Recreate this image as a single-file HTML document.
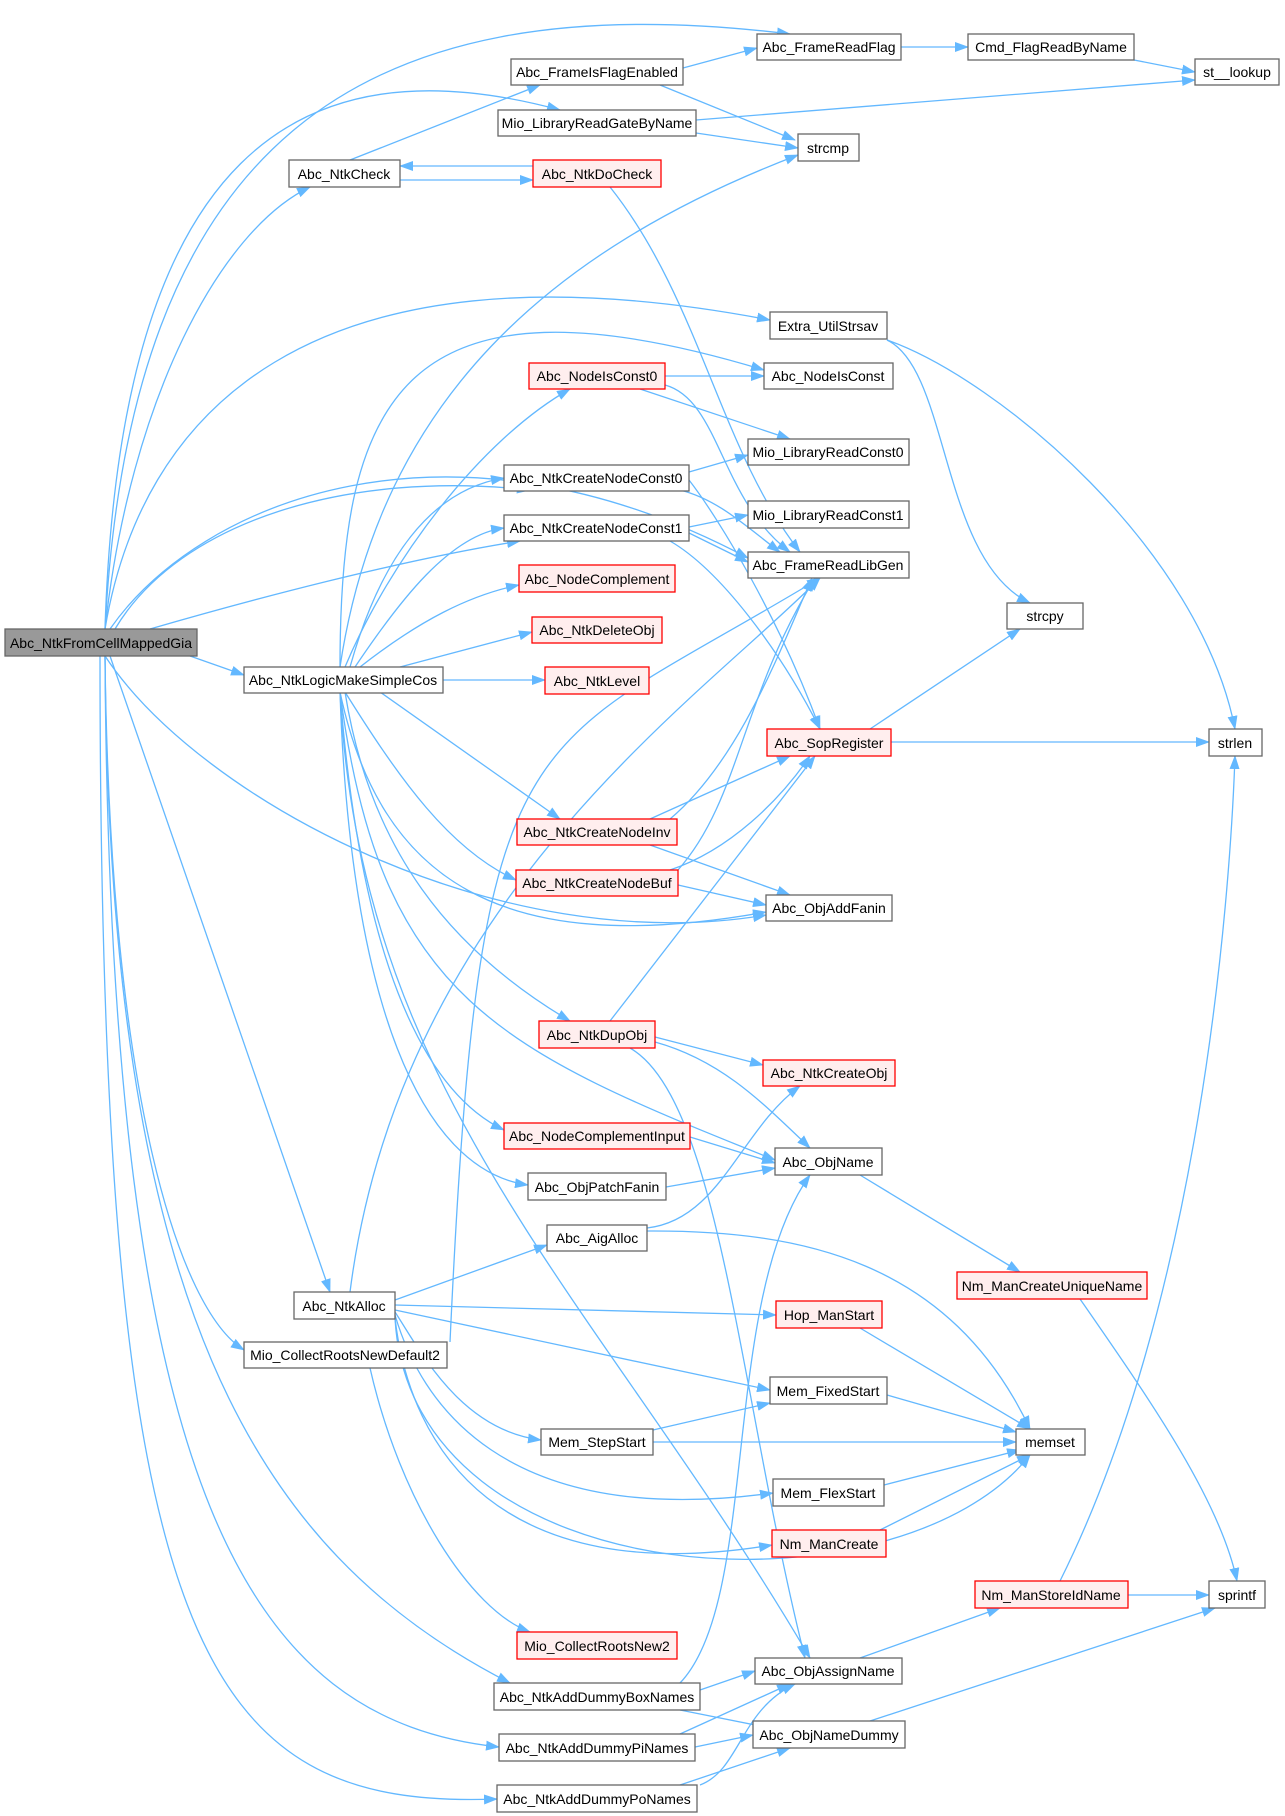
<!DOCTYPE html>
<html><head><meta charset="utf-8"><style>
html,body{margin:0;padding:0;background:#fff;}
svg{display:block;}
text{font-family:"Liberation Sans",Arial,sans-serif;font-size:14px;fill:#000;text-anchor:middle;dominant-baseline:central;}
.e{fill:none;stroke:#63b8ff;stroke-width:1.3;marker-end:url(#a);}
.n{fill:#fff;stroke:#666;stroke-width:1.3;}
.r{fill:#ffeeee;stroke:#ff0000;stroke-width:1.3;}
.m{fill:#999;stroke:#666;stroke-width:1.3;}
</style></head><body>
<svg width="1285" height="1816" viewBox="0 0 1285 1816" xmlns="http://www.w3.org/2000/svg">
<defs><marker id="a" markerWidth="14" markerHeight="10" refX="13" refY="5" orient="auto" markerUnits="userSpaceOnUse"><path d="M0,0 L14,5 L0,10 z" fill="#63b8ff"/></marker></defs>
<g>
<path class="e" d="M105 629 C 130 150, 350 -20, 790 34"/>
<path class="e" d="M105 629 C 120 150, 300 40, 560 110"/>
<path class="e" d="M105 629 C 130 400, 220 230, 310 187"/>
<path class="e" d="M105 629 C 140 420, 300 230, 770 320"/>
<path class="e" d="M110 629 C 200 500, 450 400, 748 558"/>
<path class="e" d="M115 629 C 180 520, 350 470, 530 490"/>
<path class="e" d="M150 629 C 250 600, 400 560, 520 541"/>
<path class="e" d="M190 656 L 244 675"/>
<path class="e" d="M105 656 C 200 800, 500 960, 766 915"/>
<path class="e" d="M110 656 L 330 1292"/>
<path class="e" d="M105 656 C 110 1100, 180 1310, 244 1350"/>
<path class="e" d="M105 656 C 110 1300, 250 1550, 510 1683"/>
<path class="e" d="M105 656 C 110 1500, 250 1720, 499 1747"/>
<path class="e" d="M100 656 C 100 1650, 200 1810, 497 1799"/>
<path class="e" d="M340 667 C 380 400, 550 250, 798 155"/>
<path class="e" d="M340 667 C 340 400, 400 260, 764 370"/>
<path class="e" d="M345 667 C 390 560, 480 440, 570 389"/>
<path class="e" d="M350 667 C 380 560, 430 490, 504 478"/>
<path class="e" d="M355 667 C 400 600, 450 535, 504 528"/>
<path class="e" d="M360 667 C 420 620, 470 595, 519 585"/>
<path class="e" d="M400 667 L 532 632"/>
<path class="e" d="M443 680 L 545 680"/>
<path class="e" d="M380 692 L 560 819"/>
<path class="e" d="M345 692 C 400 780, 450 850, 516 880"/>
<path class="e" d="M340 692 C 380 880, 500 960, 766 912"/>
<path class="e" d="M345 692 C 370 850, 450 950, 570 1021"/>
<path class="e" d="M340 692 C 380 1000, 500 1050, 775 1160"/>
<path class="e" d="M340 692 C 360 950, 420 1090, 504 1130"/>
<path class="e" d="M340 692 C 350 1000, 420 1170, 528 1185"/>
<path class="e" d="M340 692 C 360 1100, 600 1300, 810 1658"/>
<path class="e" d="M350 160 L 540 85"/>
<path class="e" d="M400 180 L 533 180"/>
<path class="e" d="M533 166 L 400 166"/>
<path class="e" d="M610 187 C 700 300, 720 450, 800 552"/>
<path class="e" d="M683 68 L 757 48"/>
<path class="e" d="M660 85 L 795 140"/>
<path class="e" d="M696 120 L 1195 80"/>
<path class="e" d="M696 133 L 798 148"/>
<path class="e" d="M901 47 L 968 47"/>
<path class="e" d="M1134 60 L 1195 72"/>
<path class="e" d="M887 340 C 950 370, 940 560, 1030 603"/>
<path class="e" d="M887 340 C 1000 380, 1200 550, 1235 729"/>
<path class="e" d="M665 376 L 764 376"/>
<path class="e" d="M640 389 L 790 439"/>
<path class="e" d="M665 385 C 720 400, 720 500, 790 552"/>
<path class="e" d="M689 472 L 748 455"/>
<path class="e" d="M680 490 C 720 500, 750 530, 780 552"/>
<path class="e" d="M689 480 C 720 520, 780 620, 820 729"/>
<path class="e" d="M689 527 L 748 515"/>
<path class="e" d="M689 533 L 748 562"/>
<path class="e" d="M670 541 C 720 570, 780 650, 820 729"/>
<path class="e" d="M350 1292 C 400 900, 700 700, 820 578"/>
<path class="e" d="M450 1342 C 480 700, 520 760, 820 578"/>
<path class="e" d="M650 819 L 790 756"/>
<path class="e" d="M650 845 L 790 895"/>
<path class="e" d="M670 819 C 740 760, 780 650, 812 578"/>
<path class="e" d="M678 870 C 740 800, 740 700, 815 578"/>
<path class="e" d="M670 870 C 730 850, 780 800, 810 756"/>
<path class="e" d="M678 885 L 766 905"/>
<path class="e" d="M610 1021 L 815 756"/>
<path class="e" d="M655 1037 L 763 1065"/>
<path class="e" d="M655 1042 C 720 1060, 760 1100, 810 1148"/>
<path class="e" d="M630 1048 C 720 1100, 740 1400, 805 1658"/>
<path class="e" d="M690 1137 L 775 1163"/>
<path class="e" d="M666 1187 L 775 1168"/>
<path class="e" d="M647 1228 C 720 1220, 740 1130, 800 1086"/>
<path class="e" d="M647 1231 C 800 1230, 950 1260, 1030 1429"/>
<path class="e" d="M395 1300 L 547 1245"/>
<path class="e" d="M395 1305 L 776 1315"/>
<path class="e" d="M395 1310 L 770 1390"/>
<path class="e" d="M395 1312 C 420 1350, 460 1430, 541 1440"/>
<path class="e" d="M395 1315 C 420 1400, 500 1530, 773 1493"/>
<path class="e" d="M395 1318 C 410 1450, 500 1590, 772 1545"/>
<path class="e" d="M395 1318 C 410 1600, 900 1620, 1030 1455"/>
<path class="e" d="M370 1368 C 400 1500, 470 1610, 530 1632"/>
<path class="e" d="M860 1175 L 1020 1272"/>
<path class="e" d="M1080 1299 C 1150 1400, 1220 1500, 1237 1581"/>
<path class="e" d="M860 1328 L 1030 1429"/>
<path class="e" d="M887 1395 L 1016 1432"/>
<path class="e" d="M653 1442 L 1016 1442"/>
<path class="e" d="M653 1430 L 770 1403"/>
<path class="e" d="M884 1485 L 1020 1450"/>
<path class="e" d="M880 1530 L 1030 1455"/>
<path class="e" d="M891 742 L 1209 742"/>
<path class="e" d="M870 729 L 1020 629"/>
<path class="e" d="M1128 1595 L 1209 1595"/>
<path class="e" d="M1060 1581 C 1200 1300, 1230 900, 1235 756"/>
<path class="e" d="M860 1658 L 1000 1608"/>
<path class="e" d="M870 1721 L 1215 1608"/>
<path class="e" d="M700 1690 L 755 1671"/>
<path class="e" d="M680 1710 L 770 1728"/>
<path class="e" d="M680 1683 C 760 1600, 720 1300, 810 1175"/>
<path class="e" d="M680 1734 L 790 1684"/>
<path class="e" d="M695 1747 L 753 1735"/>
<path class="e" d="M680 1785 L 790 1748"/>
<path class="e" d="M700 1785 C 740 1770, 740 1710, 795 1684"/>
</g>
<g>
<rect class="m" x="5" y="629" width="192" height="27"/><text x="101" y="643">Abc_NtkFromCellMappedGia</text>
<rect class="n" x="244" y="667" width="199" height="26"/><text x="343" y="680">Abc_NtkLogicMakeSimpleCos</text>
<rect class="n" x="289" y="160" width="111" height="27"/><text x="344" y="174">Abc_NtkCheck</text>
<rect class="n" x="294" y="1292" width="101" height="27"/><text x="344" y="1306">Abc_NtkAlloc</text>
<rect class="n" x="244" y="1342" width="203" height="26"/><text x="345" y="1355">Mio_CollectRootsNewDefault2</text>
<rect class="n" x="757" y="34" width="144" height="26"/><text x="829" y="47">Abc_FrameReadFlag</text>
<rect class="n" x="968" y="34" width="166" height="26"/><text x="1051" y="47">Cmd_FlagReadByName</text>
<rect class="n" x="1195" y="59" width="84" height="26"/><text x="1237" y="72">st__lookup</text>
<rect class="n" x="511" y="59" width="172" height="26"/><text x="597" y="72">Abc_FrameIsFlagEnabled</text>
<rect class="n" x="498" y="110" width="198" height="26"/><text x="597" y="123">Mio_LibraryReadGateByName</text>
<rect class="n" x="798" y="134" width="61" height="27"/><text x="828" y="148">strcmp</text>
<rect class="r" x="533" y="160" width="128" height="27"/><text x="597" y="174">Abc_NtkDoCheck</text>
<rect class="n" x="770" y="312" width="117" height="27"/><text x="828" y="326">Extra_UtilStrsav</text>
<rect class="r" x="529" y="363" width="136" height="26"/><text x="597" y="376">Abc_NodeIsConst0</text>
<rect class="n" x="764" y="363" width="129" height="26"/><text x="828" y="376">Abc_NodeIsConst</text>
<rect class="n" x="748" y="439" width="161" height="26"/><text x="828" y="452">Mio_LibraryReadConst0</text>
<rect class="n" x="504" y="465" width="185" height="26"/><text x="596" y="478">Abc_NtkCreateNodeConst0</text>
<rect class="n" x="748" y="501" width="161" height="27"/><text x="828" y="515">Mio_LibraryReadConst1</text>
<rect class="n" x="504" y="515" width="185" height="26"/><text x="596" y="528">Abc_NtkCreateNodeConst1</text>
<rect class="n" x="748" y="552" width="161" height="26"/><text x="828" y="565">Abc_FrameReadLibGen</text>
<rect class="r" x="519" y="565" width="156" height="27"/><text x="597" y="579">Abc_NodeComplement</text>
<rect class="n" x="1007" y="603" width="76" height="26"/><text x="1045" y="616">strcpy</text>
<rect class="r" x="532" y="617" width="130" height="26"/><text x="597" y="630">Abc_NtkDeleteObj</text>
<rect class="r" x="545" y="667" width="104" height="27"/><text x="597" y="681">Abc_NtkLevel</text>
<rect class="r" x="767" y="729" width="124" height="27"/><text x="829" y="743">Abc_SopRegister</text>
<rect class="n" x="1209" y="729" width="53" height="27"/><text x="1235" y="743">strlen</text>
<rect class="r" x="517" y="819" width="160" height="26"/><text x="597" y="832">Abc_NtkCreateNodeInv</text>
<rect class="r" x="516" y="870" width="162" height="26"/><text x="597" y="883">Abc_NtkCreateNodeBuf</text>
<rect class="n" x="766" y="895" width="126" height="26"/><text x="829" y="908">Abc_ObjAddFanin</text>
<rect class="r" x="539" y="1021" width="116" height="27"/><text x="597" y="1035">Abc_NtkDupObj</text>
<rect class="r" x="763" y="1060" width="132" height="26"/><text x="829" y="1073">Abc_NtkCreateObj</text>
<rect class="r" x="504" y="1123" width="186" height="26"/><text x="597" y="1136">Abc_NodeComplementInput</text>
<rect class="n" x="775" y="1148" width="107" height="27"/><text x="828" y="1162">Abc_ObjName</text>
<rect class="n" x="528" y="1173" width="138" height="27"/><text x="597" y="1187">Abc_ObjPatchFanin</text>
<rect class="n" x="547" y="1225" width="100" height="26"/><text x="597" y="1238">Abc_AigAlloc</text>
<rect class="r" x="957" y="1272" width="190" height="27"/><text x="1052" y="1286">Nm_ManCreateUniqueName</text>
<rect class="r" x="776" y="1301" width="106" height="27"/><text x="829" y="1315">Hop_ManStart</text>
<rect class="n" x="770" y="1377" width="117" height="27"/><text x="828" y="1391">Mem_FixedStart</text>
<rect class="n" x="1016" y="1429" width="69" height="26"/><text x="1050" y="1442">memset</text>
<rect class="n" x="541" y="1429" width="112" height="26"/><text x="597" y="1442">Mem_StepStart</text>
<rect class="n" x="773" y="1479" width="111" height="27"/><text x="828" y="1493">Mem_FlexStart</text>
<rect class="r" x="772" y="1530" width="114" height="27"/><text x="829" y="1544">Nm_ManCreate</text>
<rect class="r" x="975" y="1581" width="153" height="27"/><text x="1051" y="1595">Nm_ManStoreIdName</text>
<rect class="n" x="1209" y="1581" width="56" height="27"/><text x="1237" y="1595">sprintf</text>
<rect class="r" x="517" y="1632" width="160" height="27"/><text x="597" y="1646">Mio_CollectRootsNew2</text>
<rect class="n" x="755" y="1658" width="147" height="26"/><text x="828" y="1671">Abc_ObjAssignName</text>
<rect class="n" x="494" y="1683" width="206" height="27"/><text x="597" y="1697">Abc_NtkAddDummyBoxNames</text>
<rect class="n" x="753" y="1721" width="152" height="27"/><text x="829" y="1735">Abc_ObjNameDummy</text>
<rect class="n" x="499" y="1734" width="196" height="27"/><text x="597" y="1748">Abc_NtkAddDummyPiNames</text>
<rect class="n" x="497" y="1785" width="200" height="27"/><text x="597" y="1799">Abc_NtkAddDummyPoNames</text>
</g>
</svg>
</body></html>
